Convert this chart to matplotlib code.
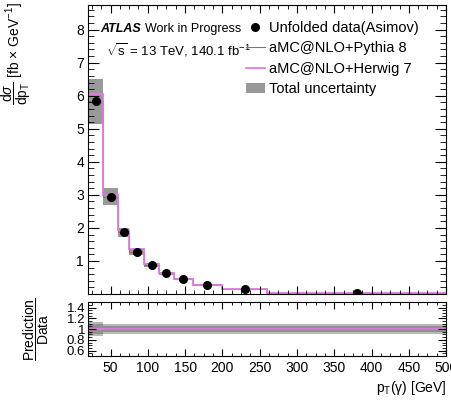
import numpy as np
import matplotlib
matplotlib.use("Agg")
import matplotlib.pyplot as plt
from matplotlib.ticker import MultipleLocator, AutoMinorLocator
from matplotlib.lines import Line2D
from matplotlib.patches import Patch

plt.rcParams['font.family'] = ['Liberation Sans', 'DejaVu Sans']
plt.rcParams['mathtext.fontset'] = 'custom'
plt.rcParams['mathtext.rm'] = 'Liberation Sans'
plt.rcParams['mathtext.it'] = 'Liberation Sans:italic'
plt.rcParams['mathtext.bf'] = 'Liberation Sans:bold'

# bins in pT(gamma) [GeV]
edges = np.array([20, 40, 60, 75, 95, 115, 135, 160, 200, 260, 500])
centers = np.array([30, 50, 67.5, 85, 105, 125, 147.5, 180, 230, 380])

# unfolded (Asimov) data, fb/GeV
data = np.array([5.83, 2.95, 1.87, 1.28, 0.88, 0.63, 0.44, 0.27, 0.14, 0.04])
total_unc = np.array([0.68, 0.26, 0.13, 0.09, 0.06, 0.045, 0.03, 0.02, 0.01, 0.004])
pythia = np.array([5.83, 2.95, 1.87, 1.28, 0.88, 0.63, 0.44, 0.27, 0.14, 0.04])
herwig = np.array([6.05, 3.00, 1.95, 1.35, 0.90, 0.65, 0.45, 0.27, 0.15, 0.03])

# relative bands in the ratio panel
ratio_outer = np.array([0.13, 0.09, 0.09, 0.09, 0.09, 0.09, 0.09, 0.09, 0.09, 0.10])
ratio_inner = np.array([0.10, 0.05, 0.05, 0.05, 0.05, 0.05, 0.05, 0.05, 0.05, 0.06])

pink = '#e07be0'
brown = '#9c6b5a'
grey = '#999999'

fig = plt.figure(figsize=(4.52, 4.05), dpi=100)
ax = fig.add_axes([0.195, 0.274, 0.792, 0.714])
rax = fig.add_axes([0.195, 0.121, 0.792, 0.133], sharex=ax)

# main panel
ax.bar(edges[:-1], 2 * total_unc, bottom=data - total_unc, width=np.diff(edges),
       align='edge', color=grey, lw=0)
ax.stairs(pythia, edges, baseline=None, color=brown, lw=0.8)
ax.stairs(herwig, edges, baseline=None, color=pink, lw=1.3)
ax.plot(centers, data, 'o', color='black', ms=5.5, zorder=5)

ax.set_xlim(20, 500)
ax.set_ylim(0, 8.75)
ax.set_yticks(range(1, 9))
ax.yaxis.set_minor_locator(AutoMinorLocator(5))
ax.xaxis.set_major_locator(MultipleLocator(50))
ax.xaxis.set_minor_locator(AutoMinorLocator(4))
ax.tick_params(axis='both', which='both', direction='in', top=True, right=True, labelsize=10)
ax.tick_params(axis='y', which='major', length=8, pad=3)
ax.tick_params(axis='y', which='minor', length=4)
ax.tick_params(axis='x', which='major', length=6, labelbottom=False)
ax.tick_params(axis='x', which='minor', length=3)
ax.set_ylabel(r'$\dfrac{\mathrm{d}\sigma}{\mathrm{dp}_{\mathrm{T}}}$ [fb $\times$ GeV$^{-1}$]',
              fontsize=10, loc='top')
ax.yaxis.set_label_coords(-0.155, 1.01)

ax.text(0.034, 0.917, 'ATLAS', transform=ax.transAxes, fontsize=9,
        fontweight='bold', fontstyle='italic', va='center')
ax.text(0.16, 0.917, 'Work in Progress', transform=ax.transAxes, fontsize=9, va='center')
ax.text(0.05, 0.843, r'$\sqrt{\mathrm{s}}$ = 13 TeV, 140.1 fb$^{-1}$', transform=ax.transAxes,
        fontsize=9.5, va='center')

handles = [Line2D([], [], marker='o', color='black', ls='none', ms=5.5),
           Line2D([], [], color=brown, lw=0.8),
           Line2D([], [], color=pink, lw=1.3),
           Patch(facecolor=grey, edgecolor='none')]
labels = ['Unfolded data(Asimov)', 'aMC@NLO+Pythia 8', 'aMC@NLO+Herwig 7', 'Total uncertainty']
ax.legend(handles, labels, loc='upper left', bbox_to_anchor=(0.44, 0.945), frameon=False,
          fontsize=10.5, handlelength=1.3, handletextpad=0.3, labelspacing=0.45,
          borderpad=0, borderaxespad=0)

# ratio panel
rax.fill_between(edges, np.append(1 - ratio_outer, 1 - ratio_outer[-1]),
                 np.append(1 + ratio_outer, 1 + ratio_outer[-1]), step='post',
                 color='#b8b8b8', lw=0)
rax.fill_between(edges, np.append(1 - ratio_inner, 1 - ratio_inner[-1]),
                 np.append(1 + ratio_inner, 1 + ratio_inner[-1]), step='post',
                 color='#909090', lw=0)
rax.stairs(pythia / data, edges, baseline=None, color=brown, lw=0.8)
rax.stairs(herwig / herwig, edges, baseline=None, color=pink, lw=1.3)

rax.set_ylim(0.5, 1.5)
rax.set_yticks([0.6, 0.8, 1.0, 1.2, 1.4])
rax.set_yticklabels(['0.6', '0.8', '1', '1.2', '1.4'])
rax.yaxis.set_minor_locator(AutoMinorLocator(4))
rax.set_xticks(range(50, 501, 50))
rax.tick_params(axis='both', which='both', direction='in', top=True, right=True, labelsize=10)
rax.tick_params(axis='y', which='major', length=6, pad=2, labelsize=9.5)
rax.tick_params(axis='y', which='minor', length=3)
rax.tick_params(axis='x', which='major', length=5)
rax.tick_params(axis='x', which='minor', length=2.5)
rax.set_ylabel(r'$\dfrac{\mathrm{Prediction}}{\mathrm{Data}}$', fontsize=10)
rax.yaxis.set_label_coords(-0.105, 0.5)
rax.set_xlabel('p$_{\\mathrm{T}}$(γ) [GeV]', fontsize=10, loc='right')
rax.xaxis.set_label_coords(1.0, -0.42)

fig.savefig('out.png', dpi=100)
